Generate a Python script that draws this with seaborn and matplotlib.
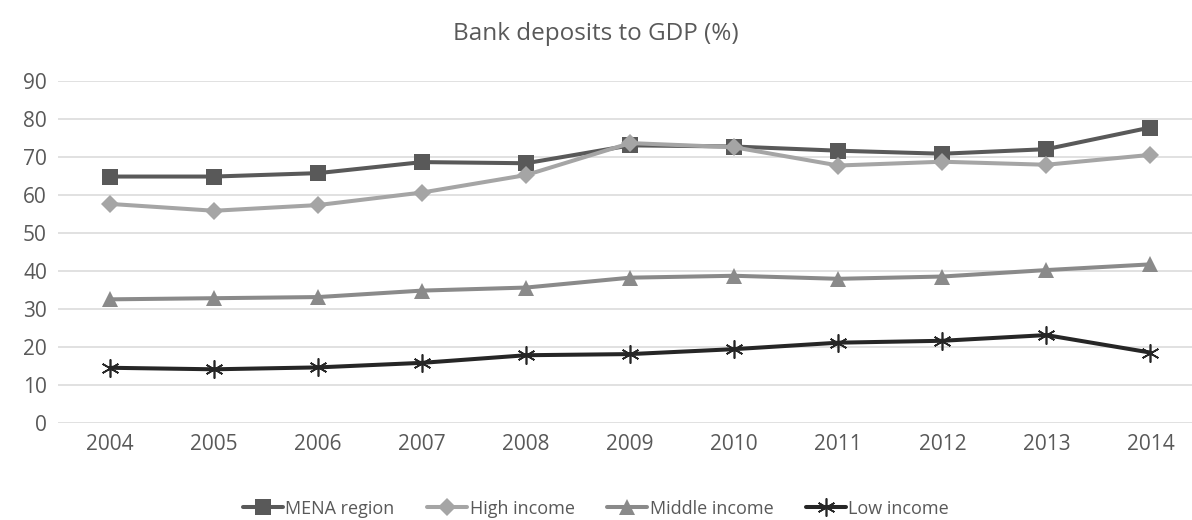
import pandas as pd
import matplotlib.pyplot as plt
import seaborn as sns

# data
years = ['2004', '2005', '2006', '2007', '2008', '2009', '2010', '2011', '2012', '2013', '2014']
mena = [64.9, 64.9, 65.8, 68.7, 68.4, 73.1, 72.8, 71.7, 70.9, 72.1, 77.8]
high_income = [57.7, 55.9, 57.4, 60.7, 65.3, 73.7, 72.6, 67.8, 68.8, 68.0, 70.6]
middle_income = [32.6, 32.9, 33.2, 34.9, 35.7, 38.3, 38.8, 38.0, 38.6, 40.3, 41.8]
low_income = [14.6, 14.2, 14.7, 15.9, 17.9, 18.2, 19.5, 21.2, 21.7, 23.2, 18.6]

series = {
    'MENA region': mena,
    'High income': high_income,
    'Middle income': middle_income,
    'Low income': low_income,
}
styles = {
    'MENA region': dict(color='#595959', marker='s', markersize=11),
    'High income': dict(color='#A5A5A5', marker='D', markersize=9),
    'Middle income': dict(color='#8A8A8A', marker='^', markersize=11),
    'Low income': dict(color='#262626', marker=(6, 2, 0), markersize=13, markeredgewidth=1.2),
}

sns.set_style('white')
plt.rcParams['font.family'] = ['Open Sans', 'DejaVu Sans']

fig = plt.figure(figsize=(11.92, 5.2), dpi=100)
ax = fig.add_axes([0.0487, 0.186, 0.9513, 0.658])

for name, vals in series.items():
    df = pd.DataFrame({'Year': years, 'Value': vals})
    st = styles[name]
    sns.lineplot(x='Year', y='Value', data=df, ax=ax, label=name, linewidth=2.9,
                 color=st['color'], marker=st['marker'], markersize=st['markersize'],
                 markeredgecolor=st['color'], markerfacecolor=st['color'],
                 markeredgewidth=st.get('markeredgewidth', 0))

ax.set_ylim(0, 90)
ax.set_yticks(range(0, 91, 10))
ax.set_xlim(-0.5, 10.4)
ax.grid(axis='y', color='#D9D9D9', linewidth=1.1)
ax.set_axisbelow(True)
for s in ax.spines.values():
    s.set_visible(False)
ax.tick_params(axis='both', length=0, labelsize=15, colors='#595959', pad=8)
ax.set_xlabel('')
ax.set_ylabel('')

fig.suptitle('Bank deposits to GDP (%)', fontsize=17.5, color='#595959', y=0.935, va='center')

handles, labels = ax.get_legend_handles_labels()
ax.get_legend().remove()
fig.legend(handles, labels, loc='center', bbox_to_anchor=(0.5, 0.022), ncol=4, frameon=False,
           fontsize=13, handlelength=2.2, handletextpad=0.15, columnspacing=1.8,
           labelcolor='#595959')

plt.savefig('out.png', dpi=100)
